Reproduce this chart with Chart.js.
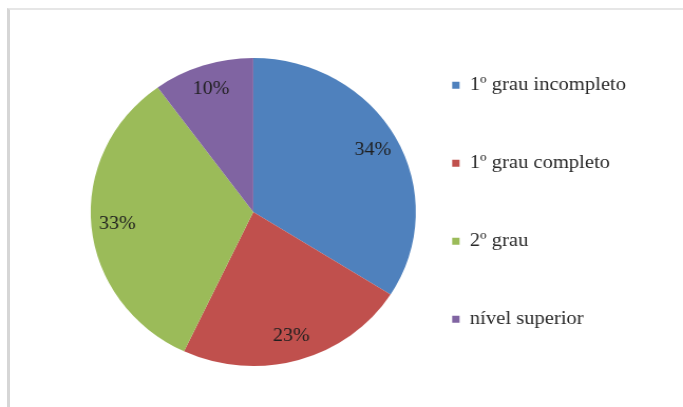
<!DOCTYPE html>
<html lang="pt-br">
<head>
    <meta charset="UTF-8">
    <meta name="viewport" content="width=device-width, initial-scale=1.0">
    <script src="https://cdn.jsdelivr.net/npm/chart.js"></script>
    <title>Escolaridade</title>
    <style>
        body { margin: 0; background: #ffffff; }
        .moldura {
            position: absolute;
            left: 7px; top: 8px;
            width: 690px; height: 420px;
            border-left: 3px solid #d6d6d6;
            border-top: 2px solid #e6e6e6;
        }
        .container_grafico {
            position: absolute;
            left: 0; top: 0;
            width: 647px; height: 407px;
            transform: scaleX(1.0557);
            transform-origin: 0 0;
        }
    </style>
</head>
<body>
    <div class="moldura"></div>
    <div class="container_grafico">
        <canvas id="myChart"></canvas>
    </div>

<script>
    const categorias = ['1º grau incompleto', '1º grau completo', '2º grau', 'nível superior'];
    const percentuais = [34, 23, 33, 10];
    const cores = ['#4F81BD', '#C0504D', '#9BBB59', '#8064A2'];

    // rótulos de porcentagem dentro das fatias
    const rotulos = {
        id: 'rotulos',
        afterDatasetsDraw(chart) {
            const ctx = chart.ctx;
            const meta = chart.getDatasetMeta(0);
            const total = percentuais.reduce((a, b) => a + b, 0);
            ctx.save();
            ctx.font = '19px "Liberation Serif"';
            ctx.fillStyle = '#1f1f1f';
            ctx.textAlign = 'center';
            ctx.textBaseline = 'middle';
            meta.data.forEach((arco, i) => {
                const p = arco.getProps(['x', 'y', 'startAngle', 'endAngle', 'outerRadius'], true);
                const meio = (p.startAngle + p.endAngle) / 2;
                const r = p.outerRadius * 0.84;
                const texto = Math.round(percentuais[i] / total * 100) + '%';
                ctx.fillText(texto, p.x + Math.cos(meio) * r, p.y + Math.sin(meio) * r);
            });
            ctx.restore();
        }
    };

    const config = {
        type: 'pie',
        data: {
            labels: categorias,
            datasets: [{
                data: percentuais,
                backgroundColor: cores,
                borderWidth: 0
            }]
        },
        options: {
            responsive: true,
            maintainAspectRatio: false,
            animation: false,
            radius: 154,
            layout: {
                padding: { top: 17, bottom: 0, left: 110, right: 44 }
            },
            plugins: {
                tooltip: { enabled: false },
                legend: {
                    position: 'right',
                    align: 'start',
                    labels: {
                        boxWidth: 7,
                        boxHeight: 7,
                        padding: 58.5,
                        color: '#2a2a2a',
                        font: { family: '"Liberation Serif"', size: 19.5 }
                    }
                }
            }
        },
        plugins: [rotulos]
    };

    let myChart = new Chart(document.getElementById('myChart'), config);
</script>
</body>
</html>
